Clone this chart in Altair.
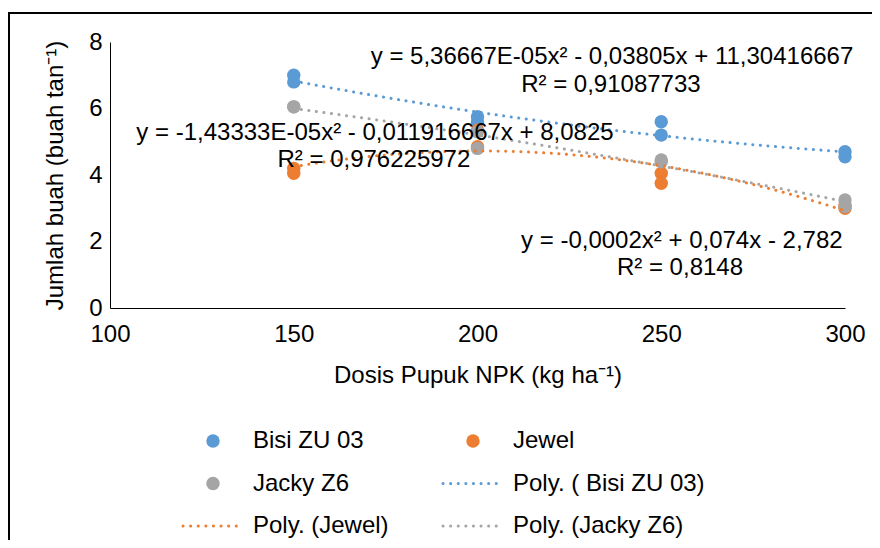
import altair as alt
import pandas as pd

# ---- data ----
doses = [150, 150, 200, 200, 250, 250, 300, 300]
bisi = [7.0, 6.8, 5.75, 5.6, 5.6, 5.2, 4.7, 4.55]
jewel = [4.2, 4.05, 5.35, 4.85, 4.05, 3.75, 3.1, 3.0]
jacky = [6.05, 6.05, 5.3, 4.8, 4.45, 4.4, 3.25, 3.05]

series = ["Bisi ZU 03", "Jewel", "Jacky Z6"]
colors = ["#5B9BD5", "#ED7D31", "#A5A5A5"]

eq_text = [
    "y = 5,36667E-05x² - 0,03805x + 11,30416667",
    "R² = 0,91087733",
    "y = -1,43333E-05x² - 0,011916667x + 8,0825",
    "R² = 0,976225972",
    "y = -0,0002x² + 0,074x - 2,782",
    "R² = 0,8148",
]
eq_x = [236.6, 236.3, 172.1, 171.8, 255.6, 255.1]
eq_y = [7.55, 6.71, 5.26, 4.45, 2.02, 1.2]

legend_labels = ["\u00a0Bisi ZU 03", "Jewel", "Jacky Z6",
                 "Poly. ( Bisi ZU 03)", "Poly. (Jewel)", "Poly. (Jacky Z6)"]
legend_kind = ["point", "point", "point", "line", "line", "line"]
legend_color = ["#5B9BD5", "#ED7D31", "#A5A5A5", "#5B9BD5", "#ED7D31", "#A5A5A5"]

FONT = "Liberation Sans"
FS = 24

rows = []
for name, vals in zip(series, [bisi, jewel, jacky]):
    for d, v in zip(doses, vals):
        rows.append({"dose": d, "value": v, "series": name})
df = pd.DataFrame(rows)

color_scale = alt.Scale(domain=series, range=colors)
x_scale = alt.Scale(domain=[100, 300], nice=False, zero=False)
y_scale = alt.Scale(domain=[0, 8], nice=False)

x_axis = alt.Axis(values=[100, 150, 200, 250, 300], title="Dosis Pupuk NPK (kg ha⁻¹)",
                  titleY=67, titleBaseline="middle", labelPadding=14, labelFlush=False)
y_axis = alt.Axis(values=[0, 2, 4, 6, 8], title="Jumlah buah (buah tan⁻¹)",
                  titleX=-55, titleY=133, titleAngle=-90, titleBaseline="middle",
                  titleAlign="center", labelPadding=8, labelFlush=False)

base = alt.Chart(df)

points = base.mark_circle(size=180, opacity=1).encode(
    x=alt.X("dose:Q", scale=x_scale, axis=x_axis),
    y=alt.Y("value:Q", scale=y_scale, axis=y_axis),
    color=alt.Color("series:N", scale=color_scale, legend=None),
)

lines = base.transform_regression(
    "dose", "value", method="poly", order=2, groupby=["series"], extent=[150, 300]
).mark_line(strokeWidth=3, strokeDash=[0.1, 7.5], strokeCap="round").encode(
    x=alt.X("dose:Q", scale=x_scale),
    y=alt.Y("value:Q", scale=y_scale),
    color=alt.Color("series:N", scale=color_scale, legend=None),
)

ann_df = pd.DataFrame({"text": eq_text, "x": eq_x, "y": eq_y})
annotations = alt.Chart(ann_df).mark_text(
    font=FONT, fontSize=FS, color="black", align="center", baseline="middle"
).encode(
    x=alt.X("x:Q", scale=x_scale),
    y=alt.Y("y:Q", scale=y_scale),
    text="text:N",
)

leg_df = pd.DataFrame({"label": legend_labels, "kind": legend_kind,
                       "color": legend_color, "idx": list(range(6))})
leg_base = alt.Chart(leg_df).transform_calculate(
    col="datum.idx % 2",
    row="floor(datum.idx / 2)",
).transform_calculate(
    sx="103 + datum.col * 260",
    sy="399 + datum.row * 42.5",
    tx="143 + datum.col * 260",
    lx1="datum.sx - 30",
    lx2="datum.sx + 30",
)
leg_points = leg_base.transform_filter("datum.kind == 'point'").mark_circle(
    size=180, opacity=1
).encode(
    x=alt.X("sx:Q", scale=None),
    y=alt.Y("sy:Q", scale=None),
    color=alt.Color("color:N", scale=None),
)
leg_lines = leg_base.transform_filter("datum.kind == 'line'").mark_rule(
    strokeWidth=3, strokeDash=[0.1, 7.5], strokeCap="round"
).encode(
    x=alt.X("lx1:Q", scale=None),
    x2="lx2:Q",
    y=alt.Y("sy:Q", scale=None),
    color=alt.Color("color:N", scale=None),
)
leg_text = leg_base.mark_text(
    font=FONT, fontSize=FS, color="black", align="left", baseline="middle"
).encode(
    x=alt.X("tx:Q", scale=None),
    y=alt.Y("sy:Q", scale=None),
    text="label:N",
)

frame_df = pd.DataFrame({"a": [0]})
frame_left = alt.Chart(frame_df).mark_rule(color="black", strokeWidth=2).encode(
    x=alt.value(-101), y=alt.value(-29), y2=alt.value(600)
)
frame_top = alt.Chart(frame_df).mark_rule(color="black", strokeWidth=2).encode(
    x=alt.value(-102), x2=alt.value(800), y=alt.value(-29)
)

chart = alt.layer(
    points, lines, annotations, leg_points, leg_lines, leg_text, frame_left, frame_top
).properties(
    width=735, height=266,
    padding={"left": 102, "top": 34, "right": 27, "bottom": 232},
    autosize=alt.AutoSizeParams(type="none"),
    background="white",
).configure_view(stroke=None).configure_axis(
    grid=False, ticks=False, domainColor="black", domainWidth=1,
    labelFont=FONT, labelFontSize=FS, labelColor="black",
    titleFont=FONT, titleFontSize=FS, titleColor="black", titleFontWeight="normal",
)

chart.save("out.html", embed_options={"renderer": "svg", "actions": False})
